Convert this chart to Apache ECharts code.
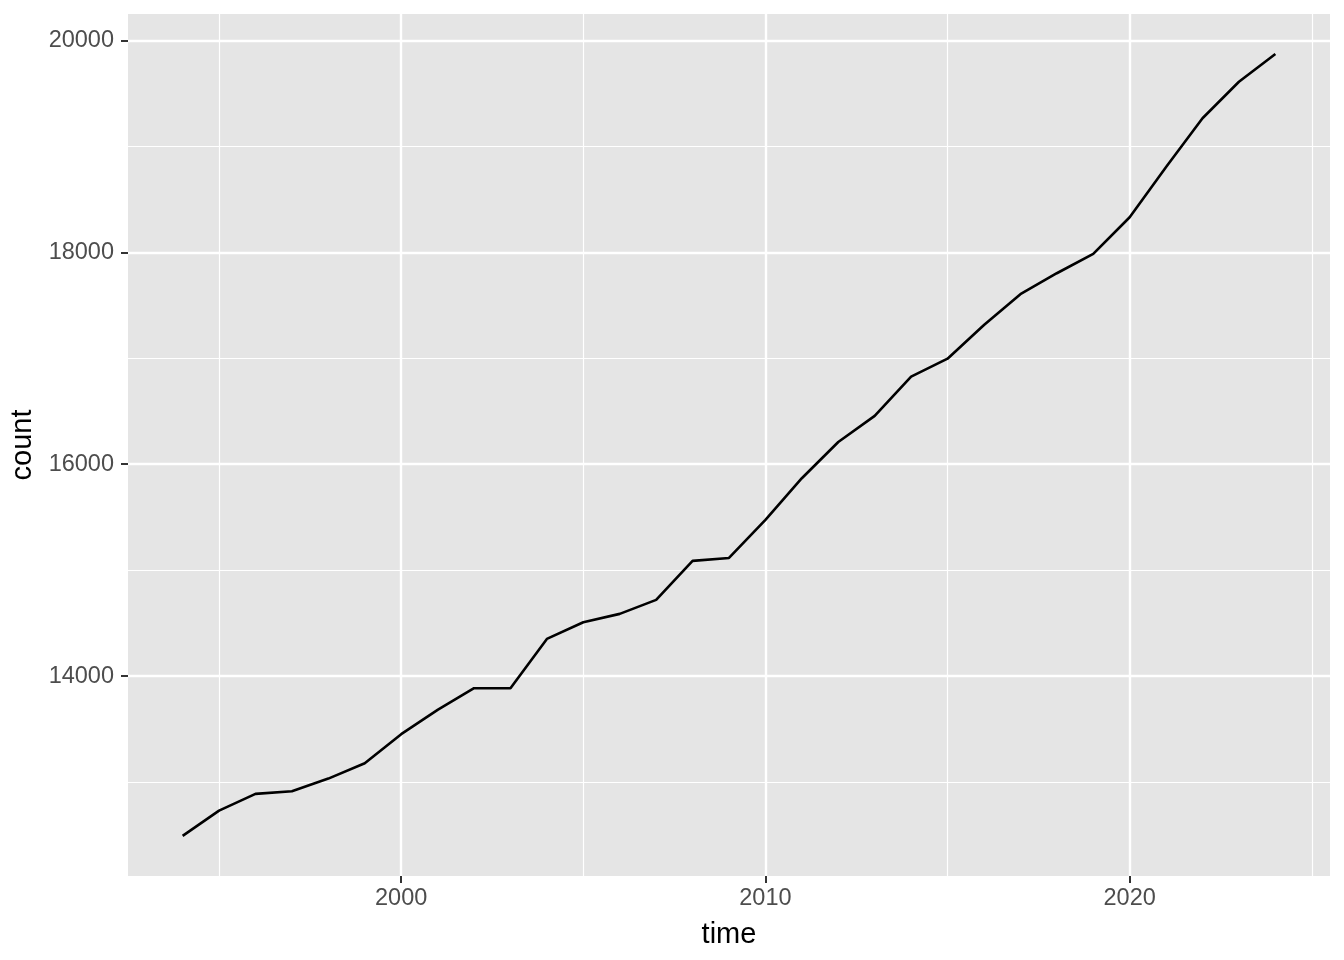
<!DOCTYPE html>
<html>
<head>
<meta charset="utf-8">
<script src="https://cdn.jsdelivr.net/npm/echarts@6/dist/echarts.min.js"></script>
<style>
html,body{margin:0;padding:0;background:#fff;}
#chart{width:1344px;height:960px;}
</style>
</head>
<body>
<div id="chart"></div>
<script>
const years = [1994,1995,1996,1997,1998,1999,2000,2001,2002,2003,2004,2005,2006,2007,2008,2009,2010,2011,2012,2013,2014,2015,2016,2017,2018,2019,2020,2021,2022,2023,2024];
const counts = [12493,12732,12890,12915,13034,13179,13453,13682,13887,13887,14352,14509,14588,14720,15088,15116,15475,15868,16210,16456,16826,16996,17314,17604,17802,17984,18330,18805,19264,19609,19871];
const xMajorTicks = [2000,2010,2020];
const xMinorTicks = [1995,2005,2015,2025];
const yMajorTicks = [14000,16000,18000,20000];
const yMinorTicks = [13000,15000,17000,19000];
const xLimits = [1992.5, 2025.5];
const yLimits = [12115, 20248];

const chart = echarts.init(document.getElementById('chart'), null, {renderer:'canvas'});
const font = 'Liberation Sans, Arial, Helvetica, sans-serif';

const gridLines = [];
xMinorTicks.forEach(v => gridLines.push({xAxis: v, lineStyle:{width:1.2}}));
yMinorTicks.forEach(v => gridLines.push({yAxis: v, lineStyle:{width:1.2}}));
xMajorTicks.forEach(v => gridLines.push({xAxis: v, lineStyle:{width:2.4}}));
yMajorTicks.forEach(v => gridLines.push({yAxis: v, lineStyle:{width:2.4}}));

chart.setOption({
  animation: false,
  backgroundColor: '#ffffff',
  grid: {left:128, right:14, top:14, bottom:84, show:true, backgroundColor:'#E5E5E5', borderWidth:0},
  xAxis: {
    type:'value', min:xLimits[0], max:xLimits[1],
    name:'time', nameLocation:'middle', nameGap:44,
    nameTextStyle:{color:'#000', fontSize:29, fontFamily:font},
    axisLine:{show:false},
    axisTick:{show:true, length:7, customValues:xMajorTicks, lineStyle:{color:'#333', width:2}},
    axisLabel:{customValues:xMajorTicks, color:'#4D4D4D', fontSize:23.5, fontFamily:font, margin:11, formatter: v => String(v)},
    splitLine:{show:false}
  },
  yAxis: {
    type:'value', min:yLimits[0], max:yLimits[1],
    name:'count', nameLocation:'middle', nameGap:84, nameRotate:90,
    nameTextStyle:{color:'#000', fontSize:29, fontFamily:font},
    axisLine:{show:false},
    axisTick:{show:true, length:7, customValues:yMajorTicks, lineStyle:{color:'#333', width:2}},
    axisLabel:{customValues:yMajorTicks, color:'#4D4D4D', fontSize:23.5, fontFamily:font, margin:14, formatter: v => String(v)},
    splitLine:{show:false}
  },
  series: [
    {
      type:'line', data: years.map((y,i)=>[y,counts[i]]), z:1, silent:true,
      symbol:'none', lineStyle:{opacity:0},
      markLine:{silent:true, symbol:['none','none'], label:{show:false}, animation:false,
        lineStyle:{color:'#ffffff', type:'solid'}, emphasis:{disabled:true}, data:gridLines}
    },
    {
      type:'line', data: years.map((y,i)=>[y,counts[i]]), z:5,
      symbol:'none', lineStyle:{color:'#000000', width:2.6}, emphasis:{disabled:true}
    }
  ]
});
</script>
</body>
</html>
